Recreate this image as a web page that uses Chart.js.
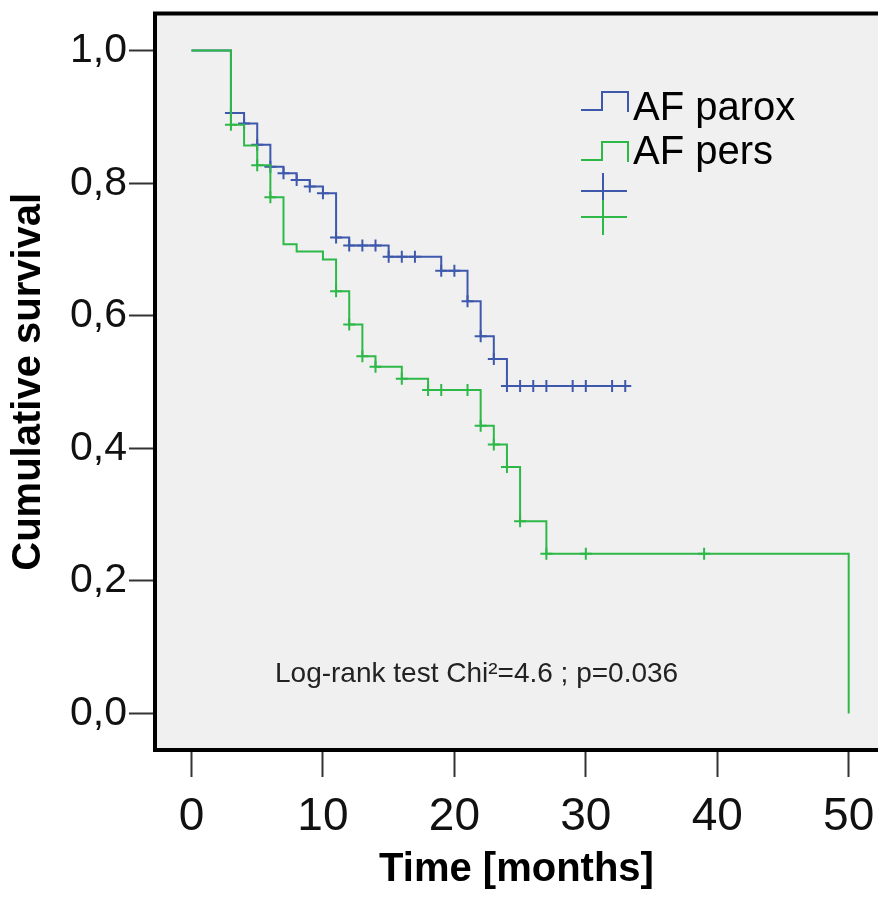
<!DOCTYPE html>
<html>
<head>
<meta charset="utf-8">
<script src="https://cdn.jsdelivr.net/npm/chart.js@4.4.1/dist/chart.umd.min.js"></script>
<style>
  html, body { margin: 0; padding: 0; background: #ffffff; overflow: hidden; }
  #wrap { width: 878px; height: 898px; }
</style>
</head>
<body>
<div id="wrap"><canvas id="c" width="878" height="898"></canvas></div>
<script>
// ---- data ----
const xTickValues = [0, 10, 20, 30, 40, 50];
const yTickValues = [0, 0.2, 0.4, 0.6, 0.8, 1.0];

const seriesNames = ["AF parox", "AF pers"];

// AF parox: step points (time in months, cumulative survival after the step)
const paroxTimes = [0, 3, 4, 5, 6, 7, 8, 9, 10, 11, 12, 15, 19, 21, 22, 23, 24, 33];
const paroxSurv  = [1.0, 0.906, 0.890, 0.858, 0.825, 0.815, 0.805, 0.795, 0.785, 0.718, 0.706, 0.689, 0.668, 0.622, 0.569, 0.535, 0.494, 0.494];
const paroxCensored = [3, 4, 5, 6, 7, 8, 9, 10, 11, 12, 13, 14, 15, 16, 17, 19, 20, 21, 22, 23, 24, 25, 26, 27, 29, 30, 32, 33];

// AF pers
const persTimes = [0, 3, 4, 5, 6, 7, 8, 10, 11, 12, 13, 14, 16, 18, 22, 23, 24, 25, 27, 50];
const persSurv  = [1.0, 0.888, 0.857, 0.827, 0.779, 0.708, 0.697, 0.685, 0.637, 0.587, 0.539, 0.523, 0.505, 0.488, 0.434, 0.406, 0.372, 0.290, 0.241, 0.0];
const persCensored = [3, 5, 6, 11, 12, 13, 14, 16, 18, 19, 21, 22, 23, 24, 25, 27, 30, 39];

const annotationText = "Log-rank test Chi\u00B2=4.6 ; p=0.036";
const xTitle = "Time [months]";
const yTitle = "Cumulative survival";

// ---- styling ----
const BLUE = "#3E58AC";
const GREEN = "#2EB848";
const FONT = "'Liberation Sans', Arial, Helvetica, sans-serif";

function toPoints(times, surv) {
  return times.map((t, i) => ({ x: t, y: surv[i] }));
}
function survivalAt(times, surv, t) {
  let v = surv[0];
  for (let i = 0; i < times.length; i++) { if (times[i] <= t) v = surv[i]; }
  return v;
}
function censorPoints(cens, times, surv) {
  return cens.map(t => ({ x: t, y: survivalAt(times, surv, t) }));
}
function noScalePadding(s) {
  s.paddingTop = 0; s.paddingBottom = 0; s.paddingLeft = 0; s.paddingRight = 0;
}

const bgPlugin = {
  id: 'bg',
  beforeDraw(chart) {
    const { ctx, chartArea: a } = chart;
    ctx.save();
    ctx.fillStyle = '#ffffff';
    ctx.fillRect(0, 0, chart.width, chart.height);
    ctx.fillStyle = '#f0f0f0';
    ctx.fillRect(a.left, a.top, a.right - a.left, a.bottom - a.top);
    ctx.restore();
  },
  afterDraw(chart) {
    const { ctx, chartArea: a } = chart;
    ctx.save();
    ctx.strokeStyle = '#000000';
    ctx.lineWidth = 4;
    ctx.beginPath();
    ctx.moveTo(chart.width + 5, a.top);
    ctx.lineTo(a.left, a.top);
    ctx.lineTo(a.left, a.bottom);
    ctx.lineTo(chart.width + 5, a.bottom);
    ctx.stroke();
    ctx.restore();
  }
};

const legendAnnoPlugin = {
  id: 'legendAnno',
  afterDatasetsDraw(chart) {
    const { ctx } = chart;
    ctx.save();
    // annotation
    ctx.fillStyle = '#222222';
    ctx.font = "28px " + FONT;
    ctx.textAlign = 'left';
    ctx.textBaseline = 'alphabetic';
    ctx.fillText(annotationText, 275, 682);

    // legend: step icons
    const colors = [BLUE, GREEN];
    const rows = [{ lowY: 110, highY: 92, endY: 112, textY: 120 },
                  { lowY: 160, highY: 142, endY: 162, textY: 164 }];
    ctx.lineWidth = 2;
    rows.forEach((r, i) => {
      ctx.strokeStyle = colors[i];
      ctx.beginPath();
      ctx.moveTo(581, r.lowY);
      ctx.lineTo(602, r.lowY);
      ctx.lineTo(602, r.highY);
      ctx.lineTo(628, r.highY);
      ctx.lineTo(628, r.endY);
      ctx.stroke();
      ctx.fillStyle = '#000000';
      ctx.font = "40px " + FONT;
      ctx.fillText(seriesNames[i], 633, r.textY);
    });
    // legend: censor crosses
    const crosses = [{ y: 191, top: 173, bottom: 208 }, { y: 217, top: 200, bottom: 235 }];
    crosses.forEach((c, i) => {
      ctx.strokeStyle = colors[i];
      ctx.beginPath();
      ctx.moveTo(581, c.y); ctx.lineTo(627, c.y);
      ctx.moveTo(603, c.top); ctx.lineTo(603, c.bottom);
      ctx.stroke();
    });
    ctx.restore();
  }
};

const chart = new Chart(document.getElementById('c'), {
  type: 'line',
  data: {
    datasets: [
      { label: seriesNames[0], data: toPoints(paroxTimes, paroxSurv), stepped: 'before',
        borderColor: BLUE, borderWidth: 2, pointRadius: 0, fill: false, order: 3 },
      { label: seriesNames[0] + ' censored', data: censorPoints(paroxCensored, paroxTimes, paroxSurv),
        showLine: false, pointStyle: 'cross', pointRadius: 6, pointBorderWidth: 2,
        pointBorderColor: BLUE, borderColor: BLUE, order: 2 },
      { label: seriesNames[1], data: toPoints(persTimes, persSurv), stepped: 'before',
        borderColor: GREEN, borderWidth: 2, pointRadius: 0, fill: false, order: 1 },
      { label: seriesNames[1] + ' censored', data: censorPoints(persCensored, persTimes, persSurv),
        showLine: false, pointStyle: 'cross', pointRadius: 6, pointBorderWidth: 2,
        pointBorderColor: GREEN, borderColor: GREEN, order: 0 }
    ]
  },
  options: {
    responsive: false,
    animation: false,
    devicePixelRatio: 1,
    layout: { autoPadding: false, padding: { top: 13.5, right: 0, bottom: 0, left: 0 } },
    plugins: { legend: { display: false }, tooltip: { enabled: false } },
    scales: {
      x: {
        type: 'linear', min: -2.777, max: 52.23,
        afterBuildTicks(s) { s.ticks = xTickValues.map(v => ({ value: v })); },
        afterFit(s) { s.height = 148; noScalePadding(s); },
        grid: { display: true, drawOnChartArea: false, drawTicks: true, tickLength: 27, tickWidth: 2, tickColor: '#333333' },
        border: { display: false },
        ticks: { color: '#111111', font: { family: FONT, size: 46 }, padding: 13, maxRotation: 0,
                 callback: v => String(v) },
        title: { display: true, text: xTitle, color: '#000000',
                 font: { family: FONT, size: 40, weight: 'bold' }, padding: { top: 0, bottom: 4 } }
      },
      y: {
        type: 'linear', min: -0.055, max: 1.056,
        afterBuildTicks(s) { s.ticks = yTickValues.map(v => ({ value: v })); },
        afterFit(s) { s.width = 155; noScalePadding(s); },
        grid: { display: true, drawOnChartArea: false, drawTicks: true, tickLength: 26, tickWidth: 2, tickColor: '#333333' },
        border: { display: false },
        ticks: { color: '#111111', font: { family: FONT, size: 41 }, padding: 2,
                 callback: v => v.toFixed(1).replace('.', ',') },
        title: { display: true, text: yTitle, color: '#000000',
                 font: { family: FONT, size: 40, weight: 'bold' }, padding: { top: 5, bottom: 0 } }
      }
    }
  },
  plugins: [bgPlugin, legendAnnoPlugin]
});
</script>
</body>
</html>
